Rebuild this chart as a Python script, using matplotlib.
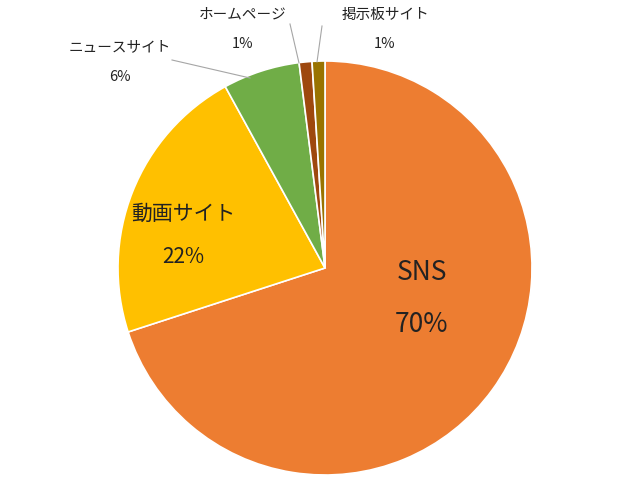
import matplotlib
matplotlib.use("Agg")
import matplotlib.pyplot as plt
from matplotlib.lines import Line2D

plt.rcParams["font.family"] = "Noto Sans CJK JP"

categories = ["SNS", "動画サイト", "ニュースサイト", "ホームページ", "掲示板サイト"]
values = [70, 22, 6, 1, 1]
colors = ["#ED7D31", "#FFC000", "#70AD47", "#9E480E", "#997300"]

fig = plt.figure(figsize=(6.4, 4.8), dpi=100)
cx, cy, r = 325, 268, 207
ax = fig.add_axes([(cx - r) / 640, (480 - cy - r) / 480, 2 * r / 640, 2 * r / 480])
ax.pie(values, colors=colors, startangle=90, counterclock=False,
       wedgeprops=dict(edgecolor="white", linewidth=1.2))
ax.set_xlim(-1, 1); ax.set_ylim(-1, 1); ax.set_aspect("auto"); ax.axis("off")

def ft(px, py, s, size):
    fig.text(px / 640, 1 - py / 480, s, ha="center", va="center", fontsize=size, color="#222222")

labels_pos = [((422, 273), (422, 325), 19), ((183, 214), (183, 257), 15),
              ((120, 47), (120, 77), 10.5), ((243, 14), (243, 44), 10.5),
              ((385, 15), (385, 44), 10.5)]
for cat, v, (p1, p2, sz) in zip(categories, values, labels_pos):
    ft(*p1, cat, sz)
    ft(*p2, f"{v}%", sz)

for (x1, y1), (x2, y2) in [((172, 60), (250, 78)), ((290, 24), (299, 63)), ((322, 26), (317, 62))]:
    fig.add_artist(Line2D([x1 / 640, x2 / 640], [1 - y1 / 480, 1 - y2 / 480],
                          color="#A6A6A6", linewidth=0.8))

fig.savefig("out.png", dpi=100)
